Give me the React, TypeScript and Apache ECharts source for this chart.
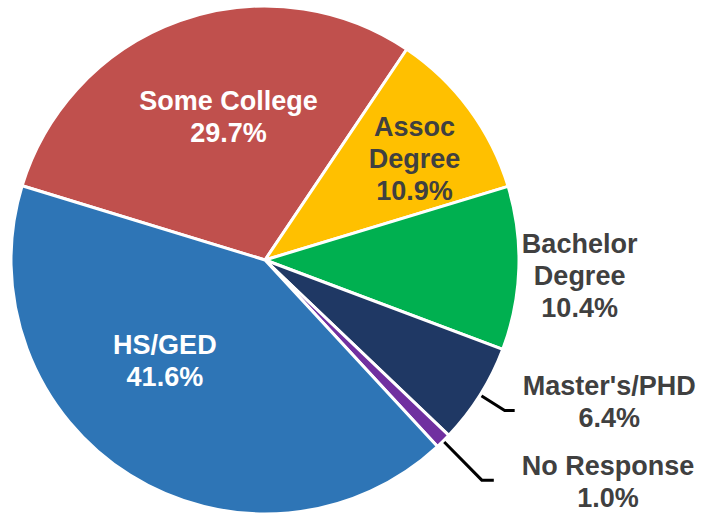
import React, { useEffect, useRef } from 'react';
import * as echarts from 'echarts';

const categories = ['Some College', 'Assoc Degree', 'Bachelor Degree', "Master's/PHD", 'No Response', 'HS/GED'];
const labelNames = ['Some College', 'Assoc\nDegree', 'Bachelor\nDegree', "Master's/PHD", 'No Response', 'HS/GED'];
const shares = [29.7, 10.9, 10.4, 6.4, 1.0, 41.6];
const colors = ['#C0504D', '#FFC000', '#00B050', '#1F3864', '#7030A0', '#2E75B6'];
const labelColors = ['#FFFFFF', '#404040', '#404040', '#404040', '#404040', '#FFFFFF'];
const labelInside = [true, true, false, false, false, true];
const showLeader = [false, false, false, true, true, false];
const leaderLen = [0, 0, 6, 29, 55, 0];
const leaderLen2 = [0, 0, 0, 10, 12, 0];
const labelNudge = [
  [7, -20],
  [45, -24],
  [-8, 7],
  [3, -8],
  [23, 2],
  [-31, -9],
];

export default function App() {
  const ref = useRef<HTMLDivElement>(null);
  useEffect(() => {
    if (!ref.current) return;
    const chart = echarts.init(ref.current, null, { renderer: 'svg' });
    const data = categories.map((name, i) => ({
      name,
      value: shares[i],
      itemStyle: { color: colors[i] },
      label: {
        position: labelInside[i] ? 'inside' : 'outside',
        color: labelColors[i],
        distanceToLabelLine: 5,
      },
      labelLine: {
        show: showLeader[i],
        length: leaderLen[i],
        length2: leaderLen2[i],
        lineStyle: { color: '#000000', width: 3 },
      },
    }));
    chart.setOption({
      animation: false,
      backgroundColor: '#FFFFFF',
      series: [
        {
          type: 'pie',
          clockwise: true,
          startAngle: 163,
          center: [265, 260],
          radius: 254,
          avoidLabelOverlap: false,
          itemStyle: { borderColor: '#FFFFFF', borderWidth: 3 },
          emphasis: { disabled: true },
          label: {
            show: true,
            fontFamily: '"Liberation Sans", Arial, sans-serif',
            fontWeight: 'bold',
            fontSize: 27,
            lineHeight: 32,
            formatter: (p: any) => labelNames[p.dataIndex] + '\n' + shares[p.dataIndex].toFixed(1) + '%',
          },
          labelLayout: (params: any) => {
            const r = params.labelRect;
            const n = labelNudge[params.dataIndex];
            const out: any = {
              x: r.x + r.width / 2 + n[0],
              y: r.y + r.height / 2 + n[1],
              align: 'center',
              verticalAlign: 'middle',
            };
            if (params.labelLinePoints) out.labelLinePoints = params.labelLinePoints;
            return out;
          },
          data,
        },
      ],
    });
    return () => chart.dispose();
  }, []);
  return (
    <div
      ref={ref}
      style={{ position: 'absolute', left: 0, top: 0, width: 706, height: 514 }}
    />
  );
}
